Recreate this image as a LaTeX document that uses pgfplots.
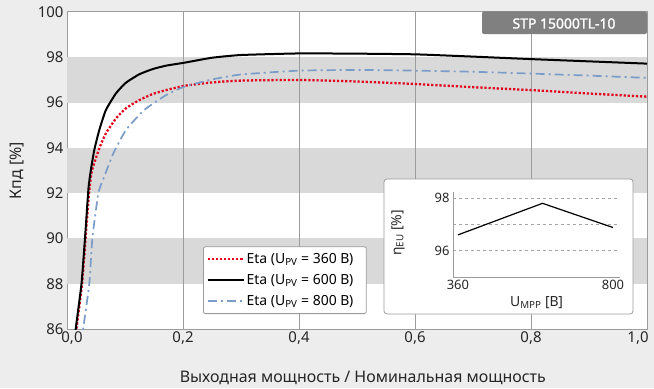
\documentclass[border=0pt]{standalone}
\usepackage{fontspec}
\setmainfont{Noto Sans}
\newfontfamily\titlefont{Noto Sans}[FakeBold=1.6]
\usepackage{pgfplots}
\pgfplotsset{compat=1.18}
\definecolor{bg}{HTML}{EDEDED}
\definecolor{band}{HTML}{D9D9D9}
\definecolor{framec}{HTML}{9C9C9C}
\definecolor{titlegray}{HTML}{808080}
\definecolor{redc}{HTML}{E2001A}
\definecolor{bluec}{HTML}{7A9CC9}
\begin{document}
\begin{tikzpicture}[x=1bp,y=1bp]
\fill[bg] (0,0) rectangle (654,388);
\useasboundingbox (0,0) rectangle (654,388);
\begin{axis}[
  at={(67bp,59bp)}, anchor=south west,
  scale only axis, width=580bp, height=317bp,
  xmin=0, xmax=1, ymin=86, ymax=100,
  /pgf/number format/assume math mode=true,
  xtick={0,0.2,0.4,0.6,0.8,1},
  xticklabels={{\mbox{\hspace*{10bp}0,0}},{\mbox{0,2}},{\mbox{0,4}},{\mbox{0,6}},{\mbox{0,8}},{\mbox{1,0\hspace*{18bp}}}},
  ytick={86,88,90,92,94,96,98,100},
  major tick length=0pt,
  axis line style={framec, line width=1bp},
  axis background/.style={fill=white},
  tick label style={font=\fontsize{15}{17}\selectfont, text=black!85},
  xticklabel style={yshift=1bp},
  yticklabel style={xshift=0bp},
  xlabel={Выходная мощность / Номинальная мощность},
  ylabel={Кпд [\%]},
  label style={font=\fontsize{16}{18}\selectfont, text=black!85},
  xlabel style={at={(axis description cs:0.51,-0.155)}, anchor=center},
  ylabel style={at={(axis description cs:-0.086,0.5)}, anchor=center},
  legend style={at={(axis description cs:0.2345,0.0473)}, anchor=south west,
    draw=framec, fill=white, rounded corners=2bp, line width=0.8bp,
    font=\fontsize{14}{16}\selectfont, row sep=5.5bp, inner xsep=3bp, inner ysep=4.5bp},
  legend cell align=left,
  legend image code/.code={\draw[#1] (0bp,0bp) -- (36bp,0bp);},
]
\fill[band] (axis cs:0,96) rectangle (axis cs:1,98);
\fill[band] (axis cs:0,92) rectangle (axis cs:1,94);
\fill[band] (axis cs:0,88) rectangle (axis cs:1,90);
\draw[framec, line width=1bp] (axis cs:0.2,86) -- (axis cs:0.2,100);
\draw[framec, line width=1bp] (axis cs:0.4,86) -- (axis cs:0.4,100);
\draw[framec, line width=1bp] (axis cs:0.6,86) -- (axis cs:0.6,100);
\draw[framec, line width=1bp] (axis cs:0.8,86) -- (axis cs:0.8,100);
\addplot[redc, line width=2.3bp, dash pattern=on 2.2bp off 1.9bp, smooth, tension=0.3] coordinates {
(0.013,85.3) (0.0167,86.1) (0.026,88.0) (0.032,90.0) (0.038,92.0) (0.043,93.0)
(0.0557,93.98) (0.067,94.64) (0.0845,95.3) (0.1017,95.75) (0.1247,96.11) (0.1478,96.38)
(0.1707,96.55) (0.2023,96.74) (0.25,96.89) (0.3,96.97) (0.4,97.0) (0.5,96.93)
(0.6,96.82) (0.7,96.68) (0.8,96.55) (0.9,96.40) (1.0,96.26)
};
\addlegendentry{Eta (U\textsubscript{PV} = 360 В)\hspace*{8bp}}
\addplot[black, line width=2bp, smooth, tension=0.3] coordinates {
(0.012,85.3) (0.0155,86.1) (0.025,88.0) (0.031,90.0) (0.037,92.2) (0.041,93.0)
(0.047,93.9) (0.0557,94.79) (0.067,95.67) (0.0845,96.41) (0.1017,96.88) (0.1247,97.25)
(0.1478,97.48) (0.1707,97.63) (0.2023,97.76) (0.25,97.98) (0.3,98.1) (0.4,98.17)
(0.5,98.16) (0.6,98.13) (0.7,98.03) (0.8,97.92) (0.9,97.82) (1.0,97.72)
};
\addlegendentry{Eta (U\textsubscript{PV} = 600 В)\hspace*{8bp}}
\addplot[bluec, line width=1.7bp, dash pattern=on 9bp off 4bp on 2bp off 4bp, smooth, tension=0.3] coordinates {
(0.026,85.4) (0.028,86.03) (0.0385,88.0) (0.0437,90.0) (0.054,92.0) (0.063,92.65)
(0.080,93.76) (0.1017,94.79) (0.133,95.67) (0.1707,96.33) (0.2023,96.7)
(0.25,97.02) (0.3,97.24) (0.4,97.41) (0.5,97.44) (0.6,97.41) (0.7,97.36)
(0.8,97.28) (0.9,97.19) (1.0,97.09)
};
\addlegendentry{Eta (U\textsubscript{PV} = 800 В)\hspace*{8bp}}
\end{axis}
% title tab
\fill[titlegray, rounded corners=2bp] (482,354) rectangle (647,376.5);
\node[text=white, font=\fontsize{14}{16}\titlefont] at (564,364.5) {STP 15000TL-10};
% inset
\draw[framec, fill=white, rounded corners=3bp, line width=0.8bp] (384,74) rectangle (633,209);
\begin{axis}[
  at={(453bp,111bp)}, anchor=south west,
  scale only axis, width=167bp, height=85bp,
  xmin=346, xmax=820, ymin=95, ymax=98.23,
  /pgf/number format/assume math mode=true,
  axis x line*=bottom, axis y line*=left,
  axis line style={framec, line width=1bp, -},
  xtick={360,800}, ytick={96,98}, minor ytick={97},
  major tick length=0pt, minor tick length=0pt,
  ymajorgrids, yminorgrids,
  major grid style={gray!70, dashed, line width=0.6bp},
  minor grid style={gray!70, dashed, line width=0.6bp},
  tick label style={font=\fontsize{13}{15}\selectfont, text=black!85},
  xticklabel style={yshift=0bp},
  xlabel={U\textsubscript{MPP} [В]},
  ylabel={η\textsubscript{EU} [\%]},
  label style={font=\fontsize{14}{16}\selectfont, text=black!85},
  xlabel style={at={(axis description cs:0.5,-0.305)}, anchor=center},
  ylabel style={at={(axis description cs:-0.33,0.52)}, anchor=center},
]
\addplot[black, line width=1.2bp] coordinates {(360,96.6) (600,97.8) (800,96.88)};
\end{axis}
\end{tikzpicture}
\end{document}
